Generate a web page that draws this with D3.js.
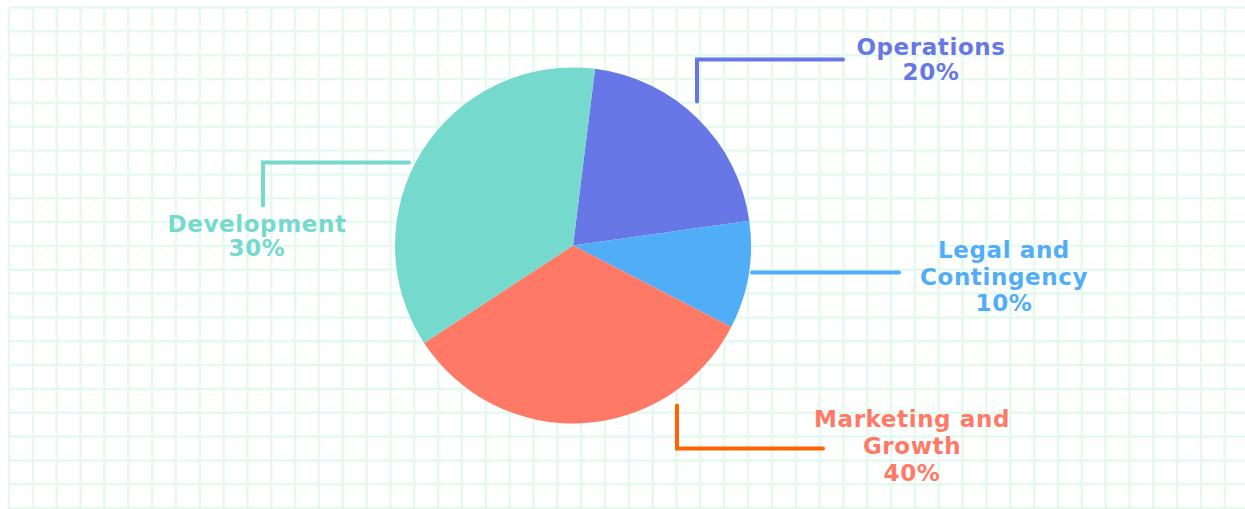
<html>
<head>
<meta charset="utf-8">
<style>
  body { margin: 0; background: #ffffff; }
  text { font-family: "DejaVu Sans", sans-serif; font-weight: bold; }
</style>
</head>
<body>
<svg id="chart"></svg>
<script src="https://d3js.org/d3.v7.min.js"></script>
<script>

// slice data (order clockwise from the top)
var categories = ["Operations", "Legal and Contingency", "Marketing and Growth", "Development"];
var shares = [20.8, 9.8, 33.2, 36.2];
var percentLabels = ["20%", "10%", "40%", "30%"];
var labelLines = [["Operations"], ["Legal and", "Contingency"], ["Marketing and", "Growth"], ["Development"]];
var sliceColors = ["#6877e6", "#52adf7", "#ff7a66", "#76d9cd"];
var lineColors = ["#6877e6", "#52adf7", "#ff6300", "#76d9cd"];

var width = 1245, height = 509;
var cx = 573, cy = 245.5, radius = 178;

// leader lines: points relative to the pie centre
var leaders = [
    [[124, -144], [124, -186], [270, -186]],
    [[179, 27], [326, 27]],
    [[104, 160], [104, 203], [250, 203]],
    [[-164, -83], [-310, -83], [-310, -40]]
];
// label anchor (centre x, first baseline) and line spacing
var labelPos = [
    {x: 931, y: 55, lh: 24.5},
    {x: 1004, y: 258, lh: 26.7},
    {x: 912, y: 427, lh: 27},
    {x: 257, y: 232, lh: 23.5}
];

var svg = d3.select("#chart")
    .attr("width", width)
    .attr("height", height);

// graph-paper background
var grid = svg.append("g").attr("class", "grid");
var step = 23.84;
var xs = d3.range(9, width, step);
var ys = d3.range(7.5, height + 1, step);

grid.selectAll("line.v")
    .data(xs)
    .enter()
    .append("line")
    .attr("class", "v")
    .attr("x1", function(d) { return d; })
    .attr("x2", function(d) { return d; })
    .attr("y1", 7.5)
    .attr("y2", height)
    .attr("stroke", "#e5f9ee")
    .attr("stroke-width", 2.5);

grid.selectAll("line.h")
    .data(ys)
    .enter()
    .append("line")
    .attr("class", "h")
    .attr("y1", function(d) { return d; })
    .attr("y2", function(d) { return d; })
    .attr("x1", 9)
    .attr("x2", width)
    .attr("stroke", "#e5f9ee")
    .attr("stroke-width", 2.5);

// pie
var start = 7.1 * Math.PI / 180;
var pie = d3.pie()
    .sort(null)
    .startAngle(start)
    .endAngle(start + 2 * Math.PI)
    .value(function(d) { return d; });

var arc = d3.arc()
    .innerRadius(0)
    .outerRadius(radius);

var g = svg.append("g")
    .attr("transform", "translate(" + cx + "," + cy + ")");

g.selectAll("path.slice")
    .data(pie(shares))
    .enter()
    .append("path")
    .attr("class", "slice")
    .attr("d", arc)
    .attr("fill", function(d, i) { return sliceColors[i]; });

// leader lines
var line = d3.line();
g.selectAll("path.leader")
    .data(leaders)
    .enter()
    .append("path")
    .attr("class", "leader")
    .attr("d", line)
    .attr("fill", "none")
    .attr("stroke", function(d, i) { return lineColors[i]; })
    .attr("stroke-width", 4)
    .attr("stroke-linecap", "round")
    .attr("stroke-linejoin", "miter");

// labels
categories.forEach(function(cat, i) {
    var pos = labelPos[i];
    var t = svg.append("text")
        .attr("text-anchor", "middle")
        .attr("fill", sliceColors[i])
        .attr("font-size", 23)
        .attr("letter-spacing", 0.6);
    var lines = labelLines[i].concat([percentLabels[i]]);
    lines.forEach(function(s, j) {
        t.append("tspan")
            .attr("x", pos.x)
            .attr("y", pos.y + j * pos.lh)
            .text(s);
    });
});

</script>
</body>
</html>
